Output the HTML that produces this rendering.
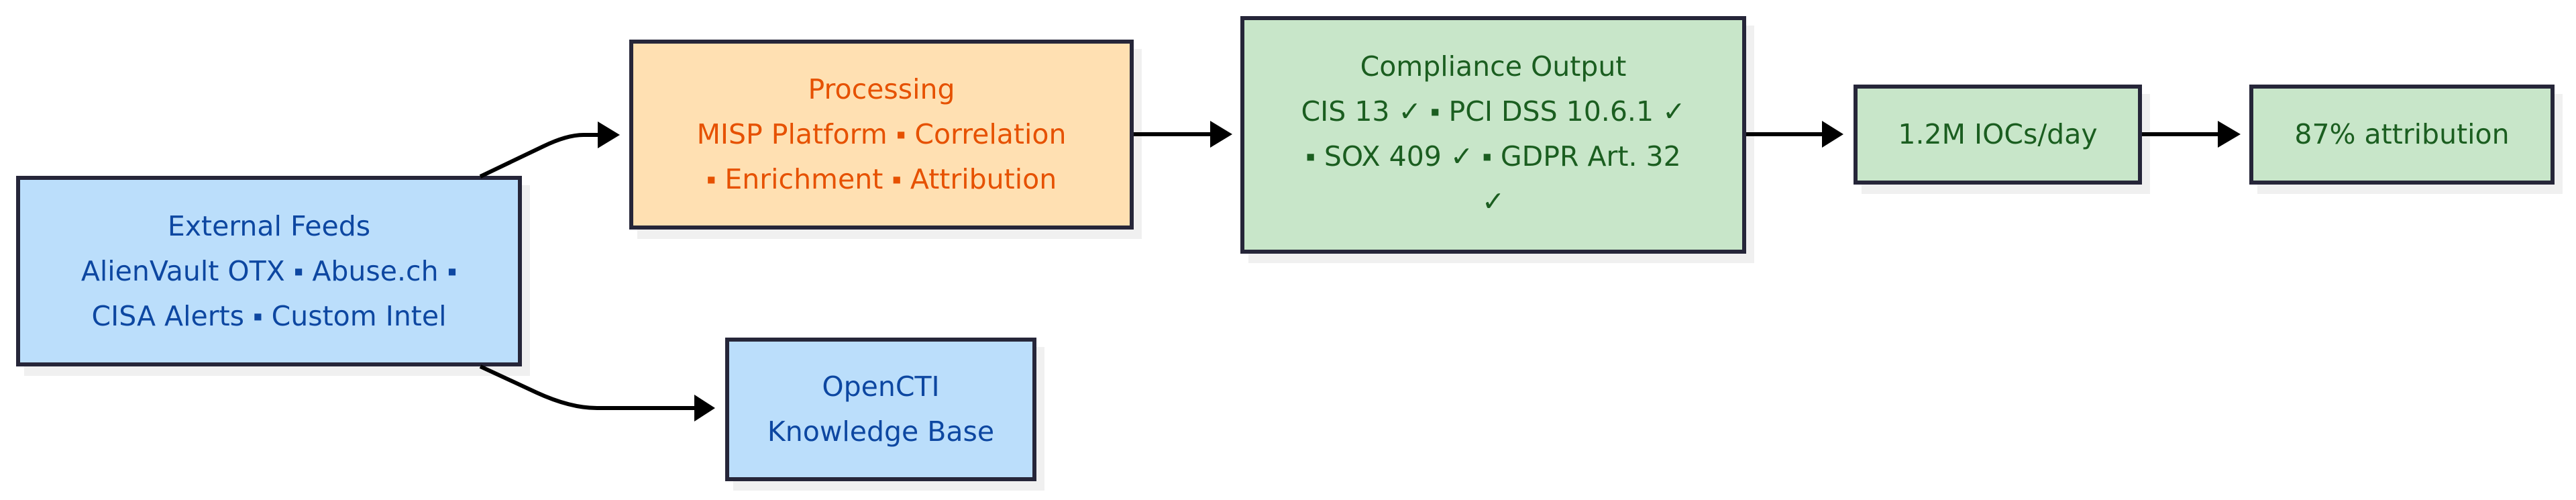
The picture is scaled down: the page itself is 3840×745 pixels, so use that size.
<!DOCTYPE html>
<html><head><meta charset="utf-8"><style>
html,body{margin:0;padding:0;background:#fff;}
body{width:3840px;height:745px;overflow:hidden;position:relative;font-family:"DejaVu Sans","Liberation Sans",sans-serif;}
.sh{position:absolute;background:#f0f0f0;}
.b{position:absolute;box-sizing:border-box;border:6px solid #262639;display:flex;flex-direction:column;align-items:center;justify-content:center;text-align:center;font-size:41px;line-height:67px;white-space:nowrap;}
.blue{background:#bbdefb;color:#0d47a1;}
.org{background:#ffe0b2;color:#e65100;}
.grn{background:#c8e6c9;color:#1b5e20;}
.s{font-family:"Liberation Sans",sans-serif;}
svg{position:absolute;left:0;top:0;}
</style></head><body>
<div class="sh" style="left:36px;top:276px;width:754px;height:284px"></div>
<div class="sh" style="left:950px;top:73px;width:752px;height:283px"></div>
<div class="sh" style="left:1093px;top:517px;width:464px;height:214px"></div>
<div class="sh" style="left:1861px;top:38px;width:754px;height:354px"></div>
<div class="sh" style="left:2775px;top:140px;width:430px;height:149px"></div>
<div class="sh" style="left:3365px;top:140px;width:455px;height:149px"></div>

<div class="b blue" style="left:24px;top:262px;width:754px;height:284px"><div>External Feeds</div><div>AlienVault OTX <span class="s">▪</span> Abuse.ch <span class="s">▪</span></div><div>CISA Alerts <span class="s">▪</span> Custom Intel</div></div>
<div class="b org" style="left:938px;top:59px;width:752px;height:283px"><div>Processing</div><div>MISP Platform <span class="s">▪</span> Correlation</div><div><span class="s">▪</span> Enrichment <span class="s">▪</span> Attribution</div></div>
<div class="b blue" style="left:1081px;top:503px;width:464px;height:214px"><div>OpenCTI</div><div>Knowledge Base</div></div>
<div class="b grn" style="left:1849px;top:24px;width:754px;height:354px;justify-content:flex-start;padding-top:36px"><div>Compliance Output</div><div>CIS 13 ✓ <span class="s">▪</span> PCI DSS 10.6.1 ✓</div><div><span class="s">▪</span> SOX 409 ✓ <span class="s">▪</span> GDPR Art. 32</div><div>✓</div></div>
<div class="b grn" style="left:2763px;top:126px;width:430px;height:149px">1.2M IOCs/day</div>
<div class="b grn" style="left:3353px;top:126px;width:455px;height:149px">87% attribution</div>

<svg width="3840" height="745" viewBox="0 0 3840 745">
<g stroke="#000" stroke-width="6" fill="none">
<path d="M716 263 L810 218 Q845 201 870 201 L895 201"/>
<path d="M716 546 L800 585 Q850 608 890 608 L1040 608"/>
<line x1="1690" y1="200" x2="1808" y2="200"/>
<line x1="2603" y1="200" x2="2720" y2="200"/>
<line x1="3193" y1="200" x2="3310" y2="200"/>
</g>
<g fill="#000">
<polygon points="891,181 924,201 891,221"/>
<polygon points="1035,588 1066,608 1035,628"/>
<polygon points="1804,180 1837,200 1804,220"/>
<polygon points="2716,180 2748,200 2716,220"/>
<polygon points="3306,180 3340,200 3306,220"/>
</g>
</svg>
</body></html>
